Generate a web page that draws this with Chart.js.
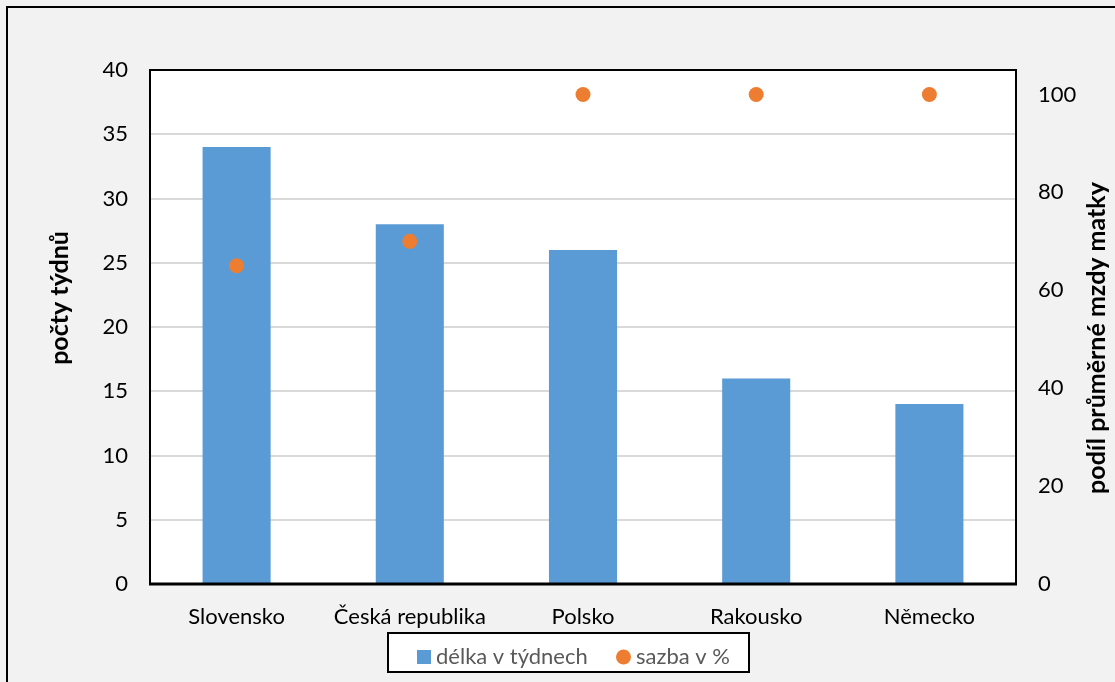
<!DOCTYPE html>
<html><head><meta charset="utf-8">
<script src="https://cdn.jsdelivr.net/npm/chart.js@4"></script>
<style>html,body{margin:0;padding:0;background:#f2f2f2;overflow:hidden}</style>
</head><body>
<canvas id="c" width="1115" height="682" style="display:block;width:1115px;height:682px"></canvas>
<script>
const categories = ['Slovensko', 'Česká republika', 'Polsko', 'Rakousko', 'Německo'];
const weeks = [34, 28, 26, 16, 14];
const rate = [65, 70, 100, 100, 100];
const leftTicks = [0, 5, 10, 15, 20, 25, 30, 35, 40];
const rightTicks = [0, 20, 40, 60, 80, 100];
const seriesNames = ['délka v týdnech', 'sazba v %'];
const leftTitle = 'počty týdnů';
const rightTitle = 'podíl průměrné mzdy matky';

const FONT = 'Lato, "Open Sans", sans-serif';
const BLUE = '#5b9bd5', ORANGE = '#ed7d31';

const decor = {
  id: 'decor',
  beforeDraw(chart) {
    const ctx = chart.ctx, a = chart.chartArea;
    ctx.save();
    ctx.fillStyle = '#f2f2f2';
    ctx.fillRect(0, 0, chart.width, chart.height);
    ctx.fillStyle = '#ffffff';
    ctx.fillRect(a.left, a.top, a.right - a.left, a.bottom - a.top);
    ctx.strokeStyle = '#000';
    ctx.lineWidth = 2;
    ctx.beginPath();
    ctx.moveTo(7, chart.height + 5); ctx.lineTo(7, 7); ctx.lineTo(chart.width + 5, 7);
    ctx.stroke();
    ctx.restore();
  },
  afterDraw(chart) {
    const ctx = chart.ctx, a = chart.chartArea;
    ctx.save();
    ctx.strokeStyle = '#000';
    ctx.lineWidth = 2;
    ctx.strokeRect(a.left, a.top, a.right - a.left, a.bottom - a.top);
    ctx.lineWidth = 3;
    ctx.beginPath(); ctx.moveTo(a.left - 1, a.bottom); ctx.lineTo(a.right + 1, a.bottom); ctx.stroke();
    // axis titles
    ctx.fillStyle = '#000';
    ctx.font = 'bold 25px ' + FONT;
    ctx.textAlign = 'center'; ctx.textBaseline = 'middle';
    ctx.save(); ctx.translate(60, 298); ctx.rotate(-Math.PI / 2); ctx.fillText(leftTitle, 0, 0); ctx.restore();
    ctx.save(); ctx.translate(1097, 338); ctx.rotate(-Math.PI / 2); ctx.fillText(rightTitle, 0, 0); ctx.restore();
    // legend
    ctx.fillStyle = '#fff';
    ctx.fillRect(388, 633, 361, 39);
    ctx.lineWidth = 2; ctx.strokeStyle = '#000';
    ctx.strokeRect(388, 633, 361, 39);
    ctx.fillStyle = BLUE; ctx.fillRect(417, 650, 14, 14);
    ctx.fillStyle = ORANGE; ctx.beginPath(); ctx.arc(623.5, 657, 7.5, 0, Math.PI * 2); ctx.fill();
    ctx.fillStyle = '#595959'; ctx.font = '22px ' + FONT; ctx.textAlign = 'left';
    ctx.fillText(seriesNames[0], 436, 657);
    ctx.fillText(seriesNames[1], 636, 657);
    ctx.restore();
  }
};

new Chart(document.getElementById('c'), {
  data: {
    labels: categories,
    datasets: [
      { type: 'line', label: seriesNames[1], data: rate, yAxisID: 'y1', showLine: false,
        pointRadius: 7.5, pointHoverRadius: 7.5, pointBackgroundColor: ORANGE, pointBorderWidth: 0, borderColor: ORANGE, order: 0 },
      { type: 'bar', label: seriesNames[0], data: weeks, yAxisID: 'y', backgroundColor: BLUE,
        categoryPercentage: 1, barPercentage: 0.393, order: 1 }
    ]
  },
  options: {
    responsive: false, animation: false, devicePixelRatio: 1,
    layout: { padding: { top: 70, left: 0, right: 0, bottom: 0 } },
    plugins: { legend: { display: false }, tooltip: { enabled: false } },
    scales: {
      x: {
        grid: { display: false }, border: { display: false },
        ticks: { color: '#000', font: { family: FONT, size: 22 }, padding: 12, maxRotation: 0 },
        afterFit(s) { s.height = 98; }
      },
      y: {
        position: 'left', min: 0, max: 40,
        afterBuildTicks(s) { s.ticks = leftTicks.map(v => ({ value: v })); },
        grid: { color: '#d9d9d9', lineWidth: 2, drawTicks: false }, border: { display: false },
        ticks: { color: '#000', font: { family: FONT, size: 22 }, padding: 22 },
        afterFit(s) { s.width = 150; }
      },
      y1: {
        position: 'right', min: 0, max: 105,
        afterBuildTicks(s) { s.ticks = rightTicks.map(v => ({ value: v })); },
        grid: { display: false, drawTicks: false }, border: { display: false },
        ticks: { color: '#000', font: { family: FONT, size: 22 }, padding: 22 },
        afterFit(s) { s.width = 99; }
      }
    }
  },
  plugins: [decor]
});
</script>
</body></html>
